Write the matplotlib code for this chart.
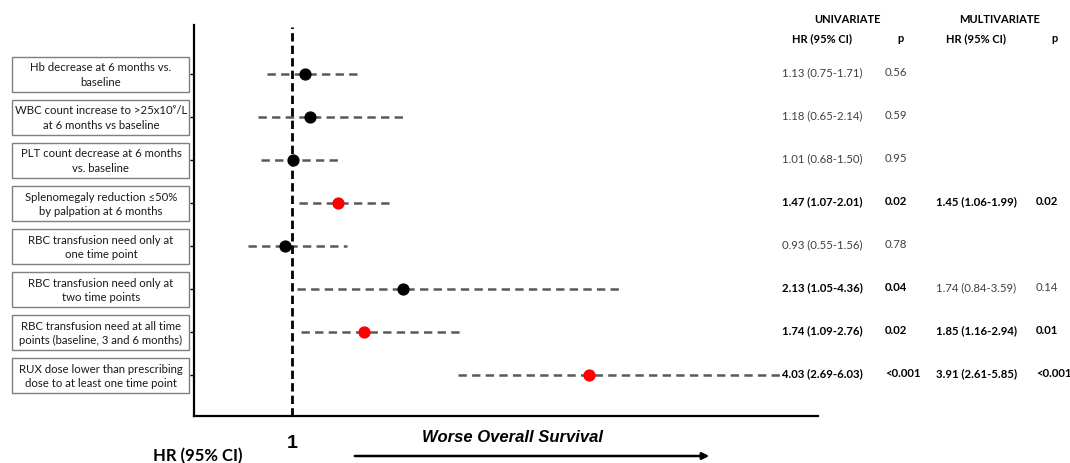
import matplotlib
matplotlib.use("Agg")
import matplotlib.pyplot as plt
import matplotlib.patches as mpatches
from matplotlib.transforms import blended_transform_factory

plt.rcParams['font.family'] = ['Lato', 'DejaVu Sans']
plt.rcParams['lines.scale_dashes'] = False

# --- data ---
labels = [
    "Hb decrease at 6 months vs.\nbaseline",
    "WBC count increase to >25x10\u2079/L\nat 6 months vs baseline",
    "PLT count decrease at 6 months\nvs. baseline",
    "Splenomegaly reduction \u226450%\nby palpation at 6 months",
    "RBC transfusion need only at\none time point",
    "RBC transfusion need only at\ntwo time points",
    "RBC transfusion need at all time\npoints (baseline, 3 and 6 months)",
    "RUX dose lower than prescribing\ndose to at least one time point",
]
hr = [1.13, 1.18, 1.01, 1.47, 0.93, 2.13, 1.74, 4.03]
ci_lo = [0.75, 0.65, 0.68, 1.07, 0.55, 1.05, 1.09, 2.69]
ci_hi = [1.71, 2.14, 1.50, 2.01, 1.56, 4.36, 2.76, 6.03]
significant = [False, False, False, True, False, False, True, True]

uni_p = ["0.56", "0.59", "0.95", "0.02", "0.78", "0.04", "0.02", "<0.001"]
uni_bold = [False, False, False, True, False, True, True, True]
multi_hr = ["", "", "", "1.45 (1.06-1.99)", "", "1.74 (0.84-3.59)", "1.85 (1.16-2.94)", "3.91 (2.61-5.85)"]
multi_p = ["", "", "", "0.02", "", "0.14", "0.01", "<0.001"]
multi_bold = [False, False, False, True, False, False, True, True]

n = len(labels)
ypos = [n - i for i in range(n)]  # top row = 8

fig = plt.figure(figsize=(10.7, 4.64), dpi=100)
ax = fig.add_axes([194 / 1070, 1 - 417 / 464, (818 - 194) / 1070, (417 - 26) / 464])
ax.set_xlim(0, 6.37)
ax.set_ylim(0.05, 9.14)

# reference line at HR = 1
ax.plot([1, 1], [0.05, 9.1], color='black', lw=2.0, dashes=(6.0, 3.0), zorder=2)

# CIs and points
for i in range(n):
    ax.plot([ci_lo[i], ci_hi[i]], [ypos[i], ypos[i]], color='#595959', lw=1.8,
            dashes=(6.0, 3.8), clip_on=False, zorder=1)
    col = 'red' if significant[i] else 'black'
    ax.plot(hr[i], ypos[i], 'o', color=col, markersize=7.8, zorder=3)

# axes style
ax.spines['top'].set_visible(False)
ax.spines['right'].set_visible(False)
ax.spines['left'].set_linewidth(1.6)
ax.spines['bottom'].set_linewidth(1.6)
ax.set_yticks(ypos)
ax.set_yticklabels([])
ax.tick_params(axis='y', length=3, width=1, direction='out')
ax.set_xticks([1])
ax.set_xticklabels(["1"], fontsize=14, fontweight='bold', family='Liberation Sans')
ax.tick_params(axis='x', length=0, pad=13)

# label boxes to the left
trans = blended_transform_factory(fig.transFigure, ax.transData)
bh = 35 / 43
for i in range(n):
    rect = mpatches.Rectangle((12 / 1070, ypos[i] - bh / 2), 177 / 1070, bh,
                              transform=trans, facecolor='white', edgecolor='#7f7f7f',
                              lw=1.0, clip_on=False)
    ax.add_patch(rect)
    ax.text(101 / 1070, ypos[i], labels[i], transform=trans, ha='center', va='center',
            fontsize=8.2, color='#1a1a1a', linespacing=1.35)

# table on the right (baseline aligned)
for i in range(n):
    y = ypos[i] - 0.02
    txt = f"{hr[i]:.2f} ({ci_lo[i]:.2f}-{ci_hi[i]:.2f})"
    w = 'bold' if uni_bold[i] else 'normal'
    c = 'black' if uni_bold[i] else '#404040'
    ax.text(782 / 1070, y, txt, transform=trans, ha='left', va='baseline', fontsize=8.2, fontweight=w, color=c)
    ax.text(885 / 1070, y, uni_p[i], transform=trans, ha='left', va='baseline', fontsize=8.2, fontweight=w, color=c)
    if multi_hr[i]:
        w = 'bold' if multi_bold[i] else 'normal'
        c = 'black' if multi_bold[i] else '#404040'
        ax.text(936 / 1070, y, multi_hr[i], transform=trans, ha='left', va='baseline', fontsize=8.2, fontweight=w, color=c)
        ax.text(1036 / 1070, y, multi_p[i], transform=trans, ha='left', va='baseline', fontsize=8.2, fontweight=w, color=c)

# table headers
fig.text(847 / 1070, 1 - 23 / 464, "UNIVARIATE", ha='center', va='baseline', fontsize=8, fontweight='bold')
fig.text(1000 / 1070, 1 - 23 / 464, "MULTIVARIATE", ha='center', va='baseline', fontsize=8, fontweight='bold')
fig.text(822 / 1070, 1 - 42 / 464, "HR (95% CI)", ha='center', va='baseline', fontsize=8, fontweight='bold')
fig.text(900 / 1070, 1 - 42 / 464, "p", ha='center', va='baseline', fontsize=8, fontweight='bold')
fig.text(976 / 1070, 1 - 42 / 464, "HR (95% CI)", ha='center', va='baseline', fontsize=8, fontweight='bold')
fig.text(1055 / 1070, 1 - 42 / 464, "p", ha='center', va='baseline', fontsize=8, fontweight='bold')

# bottom annotations
fig.text(198 / 1070, 1 - 456 / 464, "HR (95% CI)", ha='center', va='center', fontsize=12, fontweight='bold')
fig.text(512 / 1070, 1 - 438 / 464, "Worse Overall Survival", ha='center', va='center',
         fontsize=12, fontweight='bold', style='italic', family='Liberation Sans')
fig.add_artist(mpatches.FancyArrowPatch((352 / 1070, 1 - 457 / 464), (712 / 1070, 1 - 457 / 464),
                                        transform=fig.transFigure, arrowstyle='-|>', mutation_scale=10,
                                        lw=1.8, color='black'))

fig.savefig("out.png", dpi=100)
